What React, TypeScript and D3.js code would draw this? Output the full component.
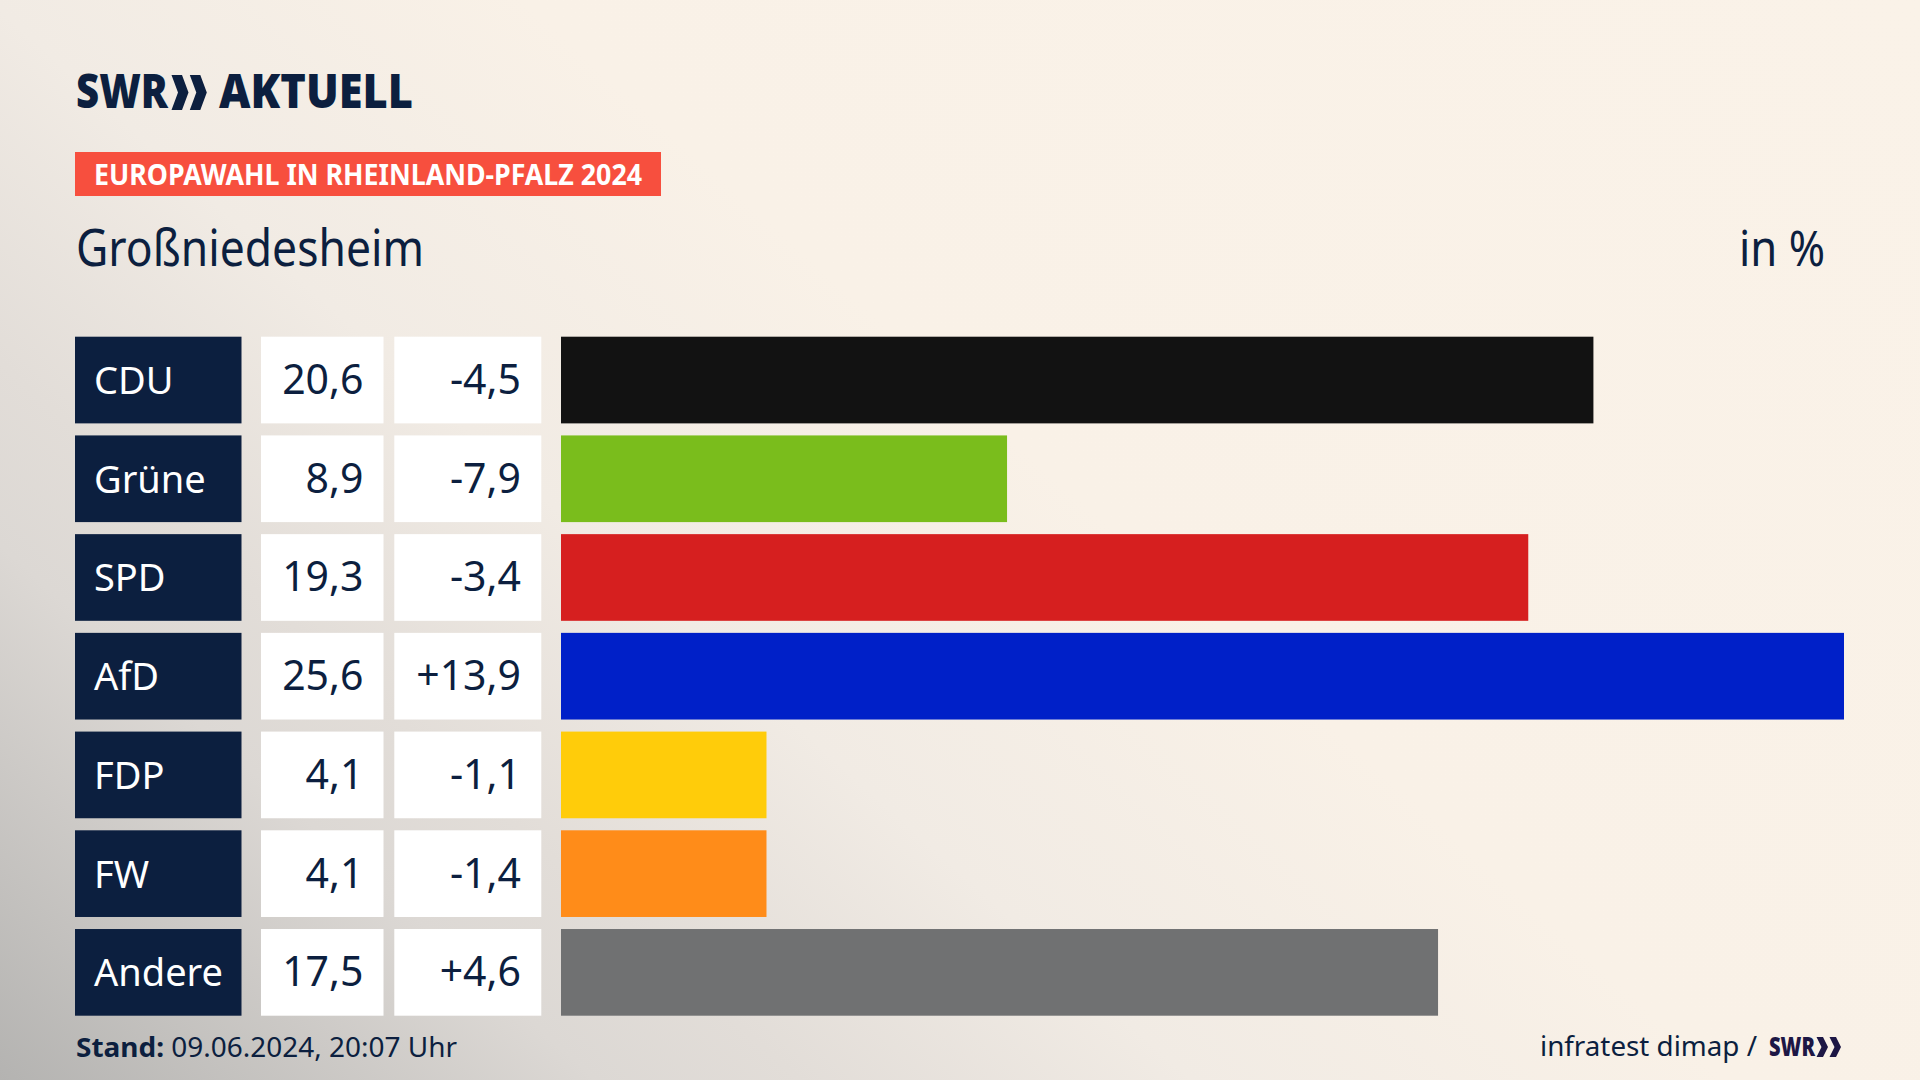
import { useEffect } from 'react';
import * as d3 from 'd3';

// election result, Großniedesheim, Europawahl 2024
const parties = ['CDU', 'Grüne', 'SPD', 'AfD', 'FDP', 'FW', 'Andere'];
const shares = [20.6, 8.9, 19.3, 25.6, 4.1, 4.1, 17.5];
const changes = [-4.5, -7.9, -3.4, 13.9, -1.1, -1.4, 4.6];
const partyColors = ['#121212', '#7abd1c', '#d61f1f', '#0020c8', '#ffcc0a', '#ff8c19', '#707172'];

const W = 1920;
const H = 1080;
const NAVY = '#0c1f3f';
const FONT = "'Noto Sans', 'Open Sans', sans-serif";

const fmt = (v: number) => v.toFixed(1).replace('.', ',');
const fmtDiff = (v: number) => (v < 0 ? '-' : '+') + fmt(Math.abs(v));

// one ">" of the SWR logo
const chevron = (x0: number, top: number, bottom: number, w: number, t: number) => {
  const mid = (top + bottom) / 2;
  return `M${x0},${top}L${x0 + t},${top}L${x0 + w},${mid}L${x0 + t},${bottom}L${x0},${bottom}L${x0 + w - t},${mid}Z`;
};

const App = () => {
  useEffect(() => {
    document.body.style.margin = '0';
  }, []);

  const y = d3.scaleBand<string>()
    .domain(parties)
    .range([336.7, 1015.7])
    .paddingInner(0.122)
    .paddingOuter(0);

  const x = d3.scaleLinear()
    .domain([0, 25.6])
    .range([561, 1844]);

  const bw = y.bandwidth();

  // column boxes
  const nameBox = { x: 75, w: 166.5 };
  const valBox = { x: 261, w: 122.5 };
  const diffBox = { x: 394.3, w: 147 };

  return (
    <svg width={W} height={H} style={{ display: 'block' }}>
      <defs>
        <linearGradient id="bg" gradientUnits="userSpaceOnUse" x1={0} y1={1080} x2={1400} y2={-480}>
          <stop offset="0" stopColor="#b4b3b1" />
          <stop offset="0.19" stopColor="#dcd8d4" />
          <stop offset="0.255" stopColor="#e2ddd8" />
          <stop offset="0.38" stopColor="#f1ebe4" />
          <stop offset="0.55" stopColor="#f9f1e7" />
          <stop offset="1" stopColor="#faf2e8" />
        </linearGradient>
      </defs>
      <rect width={W} height={H} fill="url(#bg)" />

      {/* logo */}
      <g fill={NAVY}>
        <text x={76} y={108} fontFamily={FONT} fontWeight={900} fontSize={47}
          textLength={92} lengthAdjust="spacingAndGlyphs">SWR</text>
        <path d={chevron(171.5, 75, 110, 17, 10.5)} />
        <path d={chevron(189.8, 75, 110, 17, 10.5)} />
        <text x={219} y={108} fontFamily={FONT} fontWeight={900} fontSize={47}
          textLength={194} lengthAdjust="spacingAndGlyphs">AKTUELL</text>
      </g>

      {/* banner */}
      <rect x={75} y={152} width={586} height={44} fill="#f74f3e" />
      <text x={94} y={185} fill="#fff" fontFamily={FONT} fontWeight={700} fontSize={29}
        textLength={548} lengthAdjust="spacingAndGlyphs">EUROPAWAHL IN RHEINLAND-PFALZ 2024</text>

      {/* title */}
      <text x={76} y={266} fill={NAVY} fontFamily={FONT} fontSize={51}
        textLength={348} lengthAdjust="spacingAndGlyphs">Großniedesheim</text>
      <text x={1739} y={266} fill={NAVY} fontFamily={FONT} fontSize={50}
        textLength={86} lengthAdjust="spacingAndGlyphs">in %</text>

      {/* rows */}
      {parties.map((p, i) => {
        const top = y(p)!;
        const base = top + bw / 2 + 14;
        return (
          <g key={p}>
            <rect x={nameBox.x} y={top} width={nameBox.w} height={bw} fill={NAVY} />
            <text x={94} y={base} fill="#fff" fontFamily={FONT} fontSize={38}>{p}</text>
            <rect x={valBox.x} y={top} width={valBox.w} height={bw} fill="#fff" />
            <text x={363.5} y={base} fill={NAVY} fontFamily={FONT} fontSize={41} textAnchor="end">{fmt(shares[i])}</text>
            <rect x={diffBox.x} y={top} width={diffBox.w} height={bw} fill="#fff" />
            <text x={521} y={base} fill={NAVY} fontFamily={FONT} fontSize={41} textAnchor="end">{fmtDiff(changes[i])}</text>
            <rect x={x(0)} y={top} width={x(shares[i]) - x(0)} height={bw} fill={partyColors[i]} />
          </g>
        );
      })}

      {/* footer */}
      <text x={76} y={1057} fill={NAVY} fontFamily={FONT} fontSize={27}
        textLength={381} lengthAdjust="spacingAndGlyphs">
        <tspan fontWeight={700}>Stand:</tspan> 09.06.2024, 20:07 Uhr
      </text>
      <text x={1540} y={1056} fill={NAVY} fontFamily={FONT} fontSize={27}
        textLength={217} lengthAdjust="spacingAndGlyphs">infratest dimap /</text>
      <g fill="#1d1745">
        <text x={1769} y={1056} fontFamily={FONT} fontWeight={900} fontSize={27}
          textLength={46} lengthAdjust="spacingAndGlyphs">SWR</text>
        <path d={chevron(1816.5, 1037, 1057, 11.5, 6.5)} />
        <path d={chevron(1829.5, 1037, 1057, 11.5, 6.5)} />
      </g>
    </svg>
  );
};

export default App;
